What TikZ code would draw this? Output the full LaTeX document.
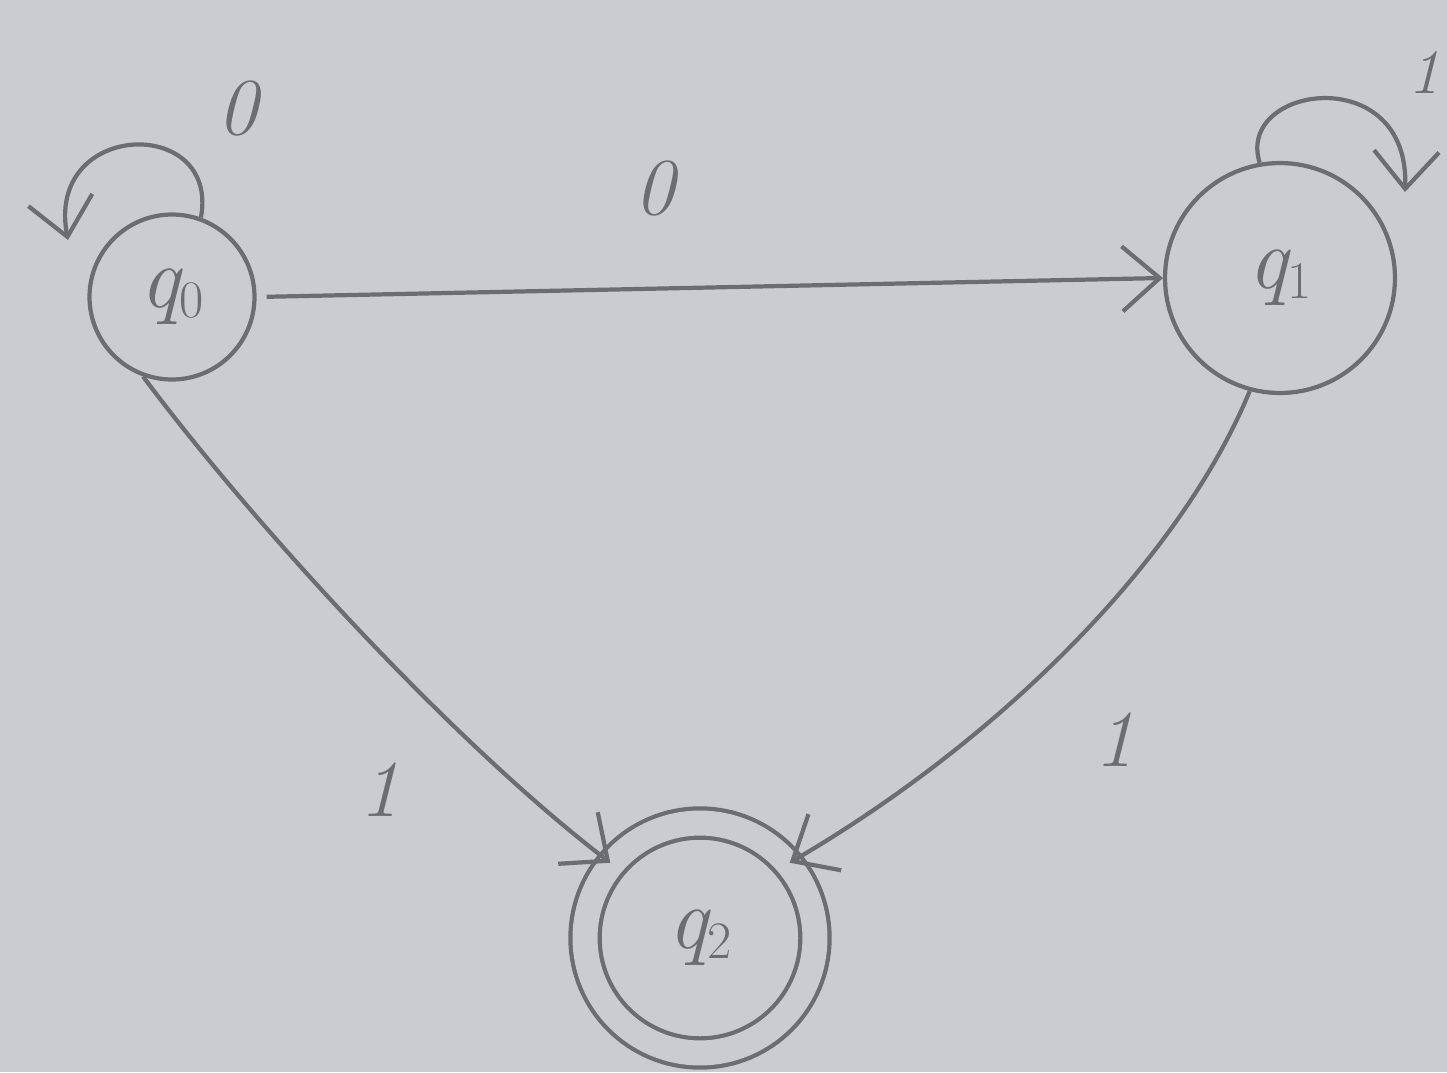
\documentclass[tikz,border=0pt]{standalone}
\usetikzlibrary{arrows.meta}
\definecolor{paper}{HTML}{C9CDD1}
\definecolor{pencil}{HTML}{6A6E72}
\newcommand{\stname}[1]{{\itshape q}\raisebox{-0.25ex}{\fontsize{30}{34}\selectfont #1}}
\begin{document}
\begin{tikzpicture}[x=0.02cm,y=-0.02cm,
  ink/.style={draw=pencil,line width=2.4pt},
  state/.style={ink,circle,inner sep=0pt,font=\fontsize{50}{56}\selectfont,text=pencil},
  edge/.style={ink,-{Straight Barb[length=0.75cm,width=1.3cm,line width=2.4pt]}},
  lbl/.style={font=\fontsize{46}{52}\selectfont\itshape,text=pencil}]
\fill[paper] (0,0) rectangle (1447,1072);
\useasboundingbox (0,0) rectangle (1447,1072);
\node[state,minimum size=3.3cm] (q0) at (172,297) {\stname{0}};
\node[state,minimum size=4.6cm] (q1) at (1280,278) {\stname{1}};
\node[state,minimum size=4.6cm,double=paper,double distance=0.5cm] (q2) at (700,938) {\stname{2}};
% self loops
\draw[edge] (q0.70) .. controls (220,115) and (45,120) .. (68,240);
\node[lbl] (l00) at (238,108) {0};
\draw[edge] (q1.100) .. controls (1235,85) and (1410,60) .. (1405,192);
\node[lbl,font=\fontsize{36}{40}\selectfont\itshape] (l11) at (1424,72) {1};
% transitions
\draw[edge,shorten <=0.2cm] (q0.east) -- (q1.west);
\node[lbl] (l01) at (655,188) {0};
\draw[edge] (q0.250) .. controls (250,520) and (450,740) .. (q2.140);
\node[lbl] (l02) at (380,790) {1};
\draw[edge] (q1.255) .. controls (1180,560) and (1000,740) .. (q2.40);
\node[lbl] (l12) at (1115,740) {1};
\end{tikzpicture}
\end{document}
